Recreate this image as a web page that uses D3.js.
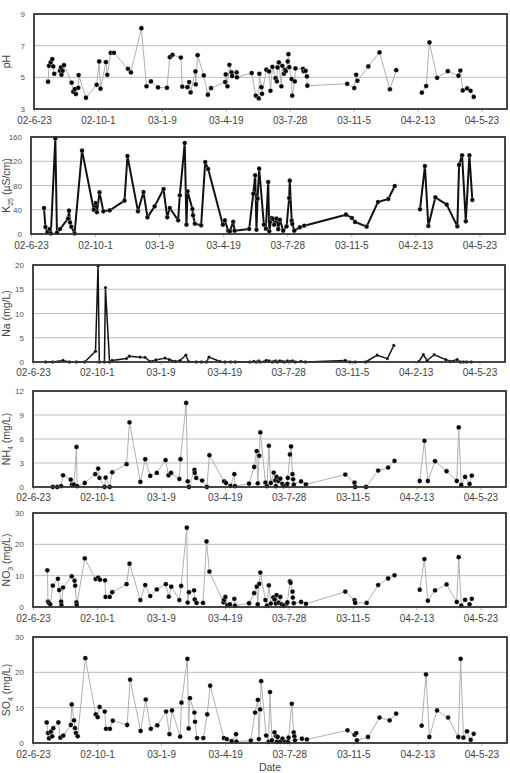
<!DOCTYPE html>
<html><head><meta charset="utf-8">
<script src="https://cdn.jsdelivr.net/npm/d3@7"></script>
<style>body{margin:0;background:#fff}svg{display:block;font-family:"Liberation Sans",Arial,sans-serif}</style>
</head><body><svg id="c" width="510" height="773"></svg>
<script>
// Sampling day = days since 2002-06-23
const tickLabels = ["02-6-23","02-10-1","03-1-9","03-4-19","03-7-28","03-11-5","04-2-13","04-5-23"];

const phDays = [22,23.5,26,28.6,30,31.7,40.6,42.2,43,44.8,46.9,58.9,61.5,64,65.6,69.3,69.8,81.3,98,102,104,112.5,114.6,120,125,147,151.6,168,176,183,194,208,212.5,216.7,229.7,232,240,242.7,245,252.6,253,256,265.6,272,277,299,300,302.6,305.7,309,310,317,317.5,340.6,347,351.6,352.6,355.7,356.8,363.5,367.7,370,373,378,380,381,383,387,388.5,391,392.7,393.8,397,398,399.5,403,404,408,409,420.8,422,425,427,427.6,490,501,504,506,523,540.6,556.8,566.7,590,606.8,613.5,618.7,630.7,647.4,664,667,670.8,677.6,683,688];
const phValues = [4.72,5.73,5.94,6.15,5.69,5.22,5.41,5.62,5.16,5.41,5.77,4.66,4.09,4.26,3.94,4.34,5.14,3.71,4.53,6.0,4.28,5.96,5.16,6.55,6.55,5.54,5.31,8.1,4.43,4.74,4.36,4.34,6.27,6.42,6.25,4.41,4.38,4.70,4.05,5.37,4.55,6.40,5.12,3.90,4.32,4.70,5.18,4.43,5.79,5.31,5.08,5.31,5.0,5.27,3.84,3.67,5.22,4.38,3.96,5.48,5.37,4.15,5.66,4.95,4.74,5.62,5.94,4.43,5.73,5.22,5.48,5.39,6.0,6.46,5.64,4.89,3.84,4.74,5.56,5.54,5.38,5.41,5.06,4.47,4.59,4.32,5.16,4.78,5.69,6.57,4.24,5.45,null,4.03,4.45,7.2,4.97,5.39,5.10,5.43,4.17,4.30,4.15,3.76];

const kDays = [20.3,22.5,25.6,29.2,31,38,40.5,45.3,57.8,59.4,61,63,68,79.7,98,101,103,107,113,123,146,150.6,167,175.6,181.8,193,206.9,212.7,216.7,229.7,232.3,240,242.7,244.4,252,253,255.8,265.6,272,276.6,299.5,302.6,307.8,310.5,315.7,317.8,340.6,347,350,352,353.7,356.2,363.6,366.7,370.3,372,375.6,378,379.7,383.4,386,388.6,393.7,399,403,404,407,408,411,419.8,426.6,491.7,501,506,524,541.7,557.8,567.8,590,607.3,615,620.3,631.3,649,665.6,668.3,673,678.8,684.4,689];
const kValues = [42.9,11.5,3.3,8.2,1,158,2,8.2,25.3,38.5,19,12,1,137.5,40,51,36,68.7,37.4,39,55,128.7,37.4,69.3,27.5,45.6,74.2,27.5,42.9,22.5,63.8,150,15.4,70.4,41.2,30.8,17,14.3,118.8,107.2,15.4,22.5,5.5,4.4,20.3,5.5,8.2,66.5,96.8,7.1,58.3,107.8,15.4,8.8,85.8,4.4,26.4,25,15.4,25.3,8,23.6,5.5,12.6,59.4,88,22,16.5,5.5,11,13.7,31.9,26.4,19.8,12.1,52.8,57.7,79.2,null,40.7,112,13.2,60.5,48.4,12.6,114,130,20.9,130,56];

const naDays = [20,31,47,57,68,81,98,102,104,112,113.6,120,124,146.4,151,168,175.6,183.4,192.7,207,213.6,223,230.7,239.6,243.8,256,264,272,276,293,301,310,317,340,346,350,354,356,363,366,370,375,378,381,383,387,391,394,399,403,407,411,420,427,489.6,497,505,521.5,539.6,555.6,565.6,590,605,612,618,629,647,655,665,670,675,680,687];
const naValues = [0,0,0.3,0,0,0,2.2,19.8,0,0,15.3,0,0.3,0.7,1.2,1.0,0.95,0.1,0.4,0.8,0.5,0.1,0.3,1.4,0.1,0,0,0,1.0,0.1,0,0,0,0,0.1,0,0.2,0,0.1,0.3,0.2,0,0.1,0.2,0,0.2,0.1,0,0.2,0.1,0.2,0,0.1,0,0.3,0,0,0,1.4,0.7,3.4,null,0.1,1.5,0.3,1.5,0.5,0.1,0.5,0,0,0,0];

const nh4Days = [31,38,44,47,59,61,64,68,69,81,97.4,102,104,112,113.6,120,124,146.4,151,168,175.6,183.4,193.7,207.4,212,216,229,230.7,239.6,242,244,252.6,253,255.3,264.6,272,276,299,302,309,315,316,338,346,350,351.6,354,355.7,363.6,366,369,372,376.6,379,380,381,384,387,390,392,396,398,398.6,402,403.7,406,407,408,419.4,427,488.6,503,504,521,540,555.6,565.6,590,605,612.4,617.7,629,647,663,666,670,676,683,686.5];
const nh4Values = [0,0,0.1,1.46,0.92,0.3,0.3,5.0,0.1,0.5,1.6,2.3,1.13,0,1.17,0,1.84,2.85,8.07,0.63,3.47,1.38,1.76,3.35,1.46,1.76,1.0,3.47,10.5,0.71,0,2.13,1.76,1.13,0.8,0,3.97,0.7,0.5,0.13,1.6,0.1,0.42,2.5,4.48,0.46,3.9,6.82,0.54,0.1,5.15,0.5,1.8,0.84,0.1,1.26,0.75,1.05,0.4,0.1,0.2,0.4,1.13,4.06,5.06,1.6,0.96,0.3,0.7,0.33,1.55,0.54,0,0,2.05,2.43,3.26,null,0.75,5.77,0.75,3.22,1.97,0.75,7.45,0.25,1.26,0.38,1.42];

const no3Days = [22.4,23.5,25,27,31,39,41,44,44.5,47,60.6,65,66,68,68.5,81,98,102,104.7,112.6,113.6,120,124,146.4,151,168,175.6,183.4,193.7,207.8,212.5,216.3,229,231.8,240.6,242,244,252,253,255.8,266,271.5,276,298,299,301,304,308,315,316,338,346,350,351.6,354,355.7,363.6,366,369,372,376,378,380,381,384,387,389,392,397,398,402,403,406,406.5,408,419.4,427,488.6,503,504,522,540,555.6,565.6,590,605,612.4,617.7,629,647,663,666,670,676,683,686.5];
const no3Values = [11.7,1.7,1.3,0.85,6.8,9.0,5.4,1.7,0.6,6.2,9.8,8.4,6.8,1.5,0.6,15.5,8.9,9.4,8.7,8.5,3.2,3.2,4.7,7.3,13.8,2.2,7.0,3.5,5.6,7.3,3.3,6.5,2.2,6.7,25.3,1.4,4.7,5.3,2.4,1.3,1.3,20.9,11.3,1.5,2.3,3.2,0.6,0.85,2.6,0.4,1.2,4.4,6.5,0.85,7.4,11.0,2.2,0.4,6.9,1.1,3.1,2.4,1.1,3.8,1.4,3.2,0.85,0.4,1.1,1.5,8.2,7.7,4.9,3.0,1.2,1.6,1.0,4.9,2.2,1.3,1.3,7.0,9.1,10.1,null,5.5,15.3,2.0,5.3,7.2,1.6,15.9,0.4,2.3,0.85,2.6];

const so4Days = [21.4,23.4,25,28,30,31.7,39.6,42.7,47.4,59,60.5,64,65.6,67,69.8,81.7,98,101,104,112,114,120,124.5,147,151.6,168,176,183.9,194,207.8,213,217,229.7,231.8,241,243,245,252,253,256,266,272,276.6,298,302.6,310,317,317.5,340,346.7,351,352.6,354.7,356.2,364,367.7,370,373,377,379.7,380.7,382,386,389.5,393,398,399,404,407,408,409,419.8,427.6,491,502,504.7,505.7,523,541,556.8,567,590,606.8,613.6,618.8,630.8,648,664,667.7,672,677.6,683.3,688];
const so4Values = [5.8,2.8,1.3,3.2,1.9,4.2,5.8,1.5,2.1,5.1,10.9,6.4,4.2,2.8,1.9,24.0,8.1,7.3,10.2,8.9,4.0,4.0,6.3,5.1,17.9,3.4,12.3,4.0,5.0,8.9,2.5,9.2,1.8,11.4,23.8,4.1,12.7,8.6,6.0,1.4,1.4,8.1,16.2,1.4,1.1,0.5,2.5,0.4,0.7,8.6,12.2,1.1,9.5,17.5,2.1,0.3,14.4,0.75,3.0,1.9,0.3,1.7,0.3,1.2,0.3,0.3,1.5,11.1,3.0,1.9,0.75,1.2,1.0,3.6,2.3,2.8,0.75,1.7,7.2,6.4,8.3,null,4.9,19.4,1.7,9.2,7.2,1.7,23.8,1.5,3.3,0.9,2.6];

const panels = [
  {days:phDays, vals:phValues, title:[["pH",""]], yDomain:[3,9], yTicks:[3,5,7,9], grid:[5,7],
   box:{l:34,r:507,t:14,b:109}, xLabY:127, line:"#b0b0b0", lw:1, mr:2.4},
  {days:kDays, vals:kValues, title:[["K",""],["25","sub"],[" (\u00b5S/cm)",""]], yDomain:[0,160], yTicks:[0,40,80,120,160], grid:[40,80,120],
   box:{l:31,r:505,t:137,b:234}, xLabY:252, line:"#111", lw:2, mr:2.3},
  {days:naDays, vals:naValues, title:[["Na (mg/L)",""]], yDomain:[0,20], yTicks:[0,5,10,15,20], grid:[5,10,15],
   box:{l:33,r:505,t:265,b:362}, xLabY:379, line:"#111", lw:1.5, mr:1.7},
  {days:nh4Days, vals:nh4Values, title:[["NH",""],["4","sub"],[" (mg/L)",""]], yDomain:[0,12], yTicks:[0,3,6,9,12], grid:[3,6,9],
   box:{l:33,r:506,t:391,b:487}, xLabY:504, line:"#b0b0b0", lw:1, mr:2.4},
  {days:no3Days, vals:no3Values, title:[["NO",""],["3","sub"],[" (mg/L)",""]], yDomain:[0,30], yTicks:[0,10,20,30], grid:[10,20],
   box:{l:33,r:506,t:513,b:607}, xLabY:625, line:"#b0b0b0", lw:1, mr:2.4},
  {days:so4Days, vals:so4Values, title:[["SO",""],["4","sub"],[" (mg/L)",""]], yDomain:[0,30], yTicks:[0,10,20,30], grid:[10,20],
   box:{l:33,r:507,t:637,b:743}, xLabY:761, line:"#b0b0b0", lw:1, mr:2.4}
];

const start = new Date(2002,5,23);
const end = d3.timeDay.offset(start, 740);
const tickDates = tickLabels.map((t,i)=>d3.timeDay.offset(start, i*100));
const svg = d3.select("#c");

panels.forEach(p=>{
  const b = p.box;
  const x = d3.scaleTime().domain([start,end]).range([b.l,b.r]);
  const y = d3.scaleLinear().domain(p.yDomain).range([b.b,b.t]);
  const g = svg.append("g");
  g.selectAll("line.grid").data(p.grid).join("line")
    .attr("x1",b.l).attr("x2",b.r).attr("y1",d=>y(d)).attr("y2",d=>y(d))
    .attr("stroke","#bdbdbd").attr("stroke-width",1);
  const xa = d3.axisBottom(x).tickValues(tickDates).tickFormat((d,i)=>tickLabels[i]).tickSize(3).tickSizeOuter(0);
  const xg = g.append("g").attr("transform",`translate(0,${b.b})`).call(xa);
  xg.select(".domain").remove();
  xg.selectAll(".tick line").attr("stroke","#bbb");
  xg.selectAll(".tick text").attr("y", p.xLabY - b.b - 3.5).attr("dy",0)
    .attr("font-size",10).attr("fill","#444").attr("font-family","Liberation Sans, Arial, sans-serif");
  const ya = d3.axisLeft(y).tickValues(p.yTicks).tickFormat(d3.format("d")).tickSize(0).tickPadding(9);
  const yg = g.append("g").attr("transform",`translate(${b.l},0)`).call(ya);
  yg.select(".domain").remove();
  yg.selectAll(".tick text").attr("font-size",8).attr("fill","#555").attr("dy","0.32em")
    .attr("font-family","Liberation Sans, Arial, sans-serif");
  const pts = p.days.map((d,i)=>({date:new Date(start.getTime() + d*86400000), v:p.vals[i]}));
  const line = d3.line().defined(d=>d.v!==null).x(d=>x(d.date)).y(d=>y(d.v));
  g.append("path").attr("d",line(pts)).attr("fill","none").attr("stroke",p.line)
    .attr("stroke-width",p.lw).attr("stroke-linejoin","round");
  g.selectAll("circle.m").data(pts.filter(d=>d.v!==null)).join("circle")
    .attr("cx",d=>x(d.date)).attr("cy",d=>y(d.v)).attr("r",p.mr)
    .attr("fill","#000").attr("stroke","#fff").attr("stroke-width",0.3);
  g.append("rect").attr("x",b.l).attr("y",b.t).attr("width",b.r-b.l).attr("height",b.b-b.t)
    .attr("fill","none").attr("stroke","#333").attr("stroke-width",1.8);
  const cy = (b.t+b.b)/2;
  const t = g.append("text").attr("transform",`translate(10,${cy}) rotate(-90)`)
    .attr("text-anchor","middle").attr("font-size",10.5).attr("fill","#444");
  let sub=false;
  p.title.forEach(([s,k])=>{
    const ts = t.append("tspan").text(s);
    if(k==="sub"){ts.attr("font-size",7).attr("dy",3);sub=true;}
    else if(sub){ts.attr("dy",-3);sub=false;}
  });
});
svg.append("text").attr("x",270).attr("y",771).attr("text-anchor","middle")
  .attr("font-size",10.5).attr("fill","#444").text("Date");
</script></body></html>
